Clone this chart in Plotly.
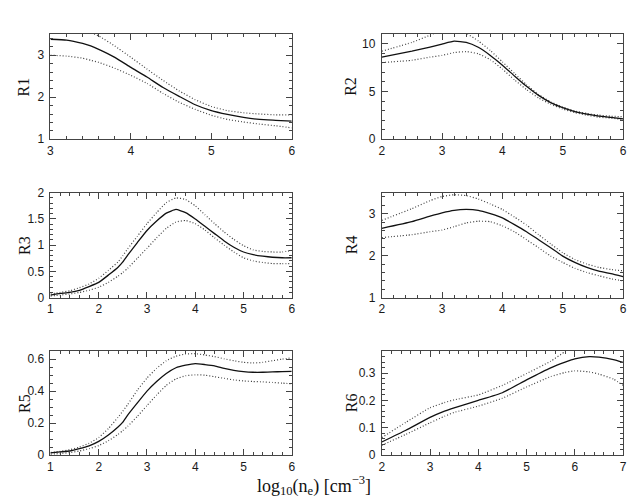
import plotly.graph_objects as go

# ---------------- data ----------------
# R1
r1_x = [3.0, 3.2, 3.4, 3.5, 3.6, 3.8, 4.0, 4.2, 4.4, 4.6, 4.8, 5.0, 5.2, 5.4, 5.6, 5.8, 6.0]
r1_mid = [3.38, 3.36, 3.28, 3.22, 3.14, 2.95, 2.71, 2.48, 2.23, 2.02, 1.82, 1.68, 1.59, 1.52, 1.47, 1.45, 1.43]
r1_hi = [3.75, 3.70, 3.60, 3.53, 3.46, 3.22, 2.95, 2.67, 2.40, 2.15, 1.94, 1.78, 1.68, 1.63, 1.60, 1.58, 1.58]
r1_lo = [3.00, 2.98, 2.93, 2.88, 2.83, 2.69, 2.52, 2.33, 2.09, 1.88, 1.71, 1.57, 1.47, 1.41, 1.36, 1.32, 1.27]

# R2
r2_x = [2.0, 2.5, 2.8, 3.0, 3.2, 3.4, 3.6, 3.8, 4.0, 4.2, 4.4, 4.6, 4.8, 5.0, 5.2, 5.4, 5.6, 5.8, 6.0]
r2_mid = [8.6, 9.22, 9.65, 9.97, 10.27, 10.14, 9.63, 8.78, 7.76, 6.63, 5.54, 4.59, 3.84, 3.30, 2.89, 2.62, 2.41, 2.28, 2.14]
r2_hi = [9.22, 10.14, 10.9, 11.4, 11.5, 11.1, 10.3, 9.29, 8.10, 6.90, 5.71, 4.69, 3.91, 3.37, 2.96, 2.69, 2.52, 2.41, 2.35]
r2_lo = [8.03, 8.27, 8.6, 8.78, 9.08, 9.18, 8.95, 8.33, 7.35, 6.22, 5.20, 4.32, 3.67, 3.16, 2.79, 2.52, 2.31, 2.21, 2.07]

# R3
r3_x = [1.0, 1.2, 1.4, 1.6, 1.8, 2.0, 2.2, 2.4, 2.5, 2.6, 2.8, 3.0, 3.2, 3.4, 3.6, 3.8, 4.0,
        4.2, 4.4, 4.6, 4.8, 5.0, 5.2, 5.4, 5.6, 5.8, 6.0]
r3_mid = [0.05, 0.08, 0.10, 0.14, 0.21, 0.29, 0.43, 0.58, 0.68, 0.81, 1.05, 1.28, 1.46, 1.61, 1.68, 1.62, 1.50,
          1.36, 1.22, 1.08, 0.96, 0.87, 0.82, 0.79, 0.77, 0.76, 0.76]
r3_hi = [0.07, 0.10, 0.13, 0.19, 0.26, 0.37, 0.52, 0.68, 0.80, 0.93, 1.17, 1.41, 1.62, 1.81, 1.90, 1.87, 1.75,
         1.58, 1.41, 1.25, 1.11, 0.99, 0.91, 0.88, 0.87, 0.87, 0.90]
r3_lo = [0.03, 0.05, 0.07, 0.10, 0.14, 0.20, 0.29, 0.41, 0.48, 0.56, 0.75, 0.94, 1.14, 1.32, 1.44, 1.47, 1.41,
         1.29, 1.14, 1.00, 0.87, 0.76, 0.70, 0.67, 0.65, 0.65, 0.65]

# R4
r4_x = [2.0, 2.5, 2.8, 3.0, 3.2, 3.4, 3.6, 3.8, 4.0, 4.2, 4.4, 4.6, 4.8, 5.0, 5.2, 5.4, 5.6, 5.8, 6.0]
r4_mid = [2.65, 2.81, 2.94, 3.02, 3.08, 3.10, 3.08, 3.00, 2.90, 2.74, 2.57, 2.38, 2.19, 1.99, 1.84, 1.72, 1.63, 1.57, 1.50]
r4_hi = [2.84, 3.12, 3.31, 3.41, 3.45, 3.43, 3.35, 3.23, 3.10, 2.92, 2.73, 2.50, 2.28, 2.07, 1.91, 1.80, 1.72, 1.67, 1.64]
r4_lo = [2.43, 2.50, 2.57, 2.61, 2.69, 2.78, 2.82, 2.81, 2.71, 2.57, 2.38, 2.19, 1.99, 1.84, 1.70, 1.60, 1.52, 1.45, 1.40]

# R5
r5_x = [1.0, 1.2, 1.4, 1.6, 1.8, 2.0, 2.2, 2.4, 2.5, 2.6, 2.8, 3.0, 3.2, 3.4, 3.6, 3.8, 4.0,
        4.2, 4.4, 4.6, 4.8, 5.0, 5.2, 5.4, 5.6, 5.8, 6.0]
r5_mid = [0.014, 0.020, 0.026, 0.040, 0.058, 0.086, 0.126, 0.176, 0.206, 0.250, 0.326, 0.400, 0.460, 0.510,
          0.546, 0.562, 0.572, 0.566, 0.558, 0.542, 0.530, 0.522, 0.518, 0.518, 0.520, 0.522, 0.524]
r5_hi = [0.016, 0.024, 0.034, 0.050, 0.074, 0.110, 0.166, 0.236, 0.275, 0.316, 0.406, 0.482, 0.542, 0.590,
         0.618, 0.632, 0.634, 0.626, 0.616, 0.602, 0.590, 0.580, 0.576, 0.580, 0.590, 0.600, 0.608]
r5_lo = [0.006, 0.010, 0.016, 0.026, 0.040, 0.060, 0.090, 0.130, 0.154, 0.180, 0.242, 0.310, 0.376, 0.436,
         0.476, 0.496, 0.502, 0.500, 0.490, 0.480, 0.470, 0.464, 0.460, 0.458, 0.454, 0.450, 0.446]

# R6
r6_x = [2.0, 2.5, 3.0, 3.3, 3.5, 4.0, 4.5, 5.0, 5.5, 5.8, 6.0, 6.3, 6.5, 6.8, 7.0]
r6_mid = [0.048, 0.091, 0.138, 0.161, 0.173, 0.200, 0.228, 0.275, 0.319, 0.340, 0.352, 0.360, 0.358, 0.349, 0.339]
r6_hi = [0.064, 0.120, 0.173, 0.192, 0.202, 0.220, 0.255, 0.298, 0.343, 0.378, 0.395, 0.405, 0.410, 0.410, 0.410]
r6_lo = [0.036, 0.076, 0.118, 0.142, 0.156, 0.179, 0.208, 0.249, 0.287, 0.302, 0.308, 0.304, 0.296, 0.278, 0.255]

panel_names = ["R1", "R2", "R3", "R4", "R5", "R6"]
xs = [r1_x, r2_x, r3_x, r4_x, r5_x, r6_x]
mids = [r1_mid, r2_mid, r3_mid, r4_mid, r5_mid, r6_mid]
his = [r1_hi, r2_hi, r3_hi, r4_hi, r5_hi, r6_hi]
los = [r1_lo, r2_lo, r3_lo, r4_lo, r5_lo, r6_lo]
x_ranges = [[3, 6], [2, 6], [1, 6], [2, 6], [1, 6], [2, 7]]
y_ranges = [[1, 3.5], [0, 11], [0, 2], [1, 3.5], [0, 0.65], [0, 0.38]]
y_major = [1, 5, 0.5, 1, 0.2, 0.1]
y_minor = [0.2, 1, 0.1, 0.2, 0.05, 0.02]

W, H = 631, 502
col_px = [(48, 292), (383, 627)]
row_px = [(28, 136), (191, 299), (354, 461)]

fig = go.Figure()
tickfont = dict(family="Liberation Sans, Arial, sans-serif", size=12, color="#1a1a1a")
serif = "Liberation Serif, Times New Roman, serif"

for i in range(6):
    r, c = divmod(i, 2)
    n = i + 1
    xa = "x" if n == 1 else f"x{n}"
    ya = "y" if n == 1 else f"y{n}"
    for yv, dash, w, col in [(his[i], "1px,2px", 1.2, "#444"), (los[i], "1px,2px", 1.2, "#444"),
                             (mids[i], "solid", 1.3, "#111")]:
        fig.add_trace(go.Scatter(x=xs[i], y=yv, mode="lines", xaxis=xa, yaxis=ya,
                                 line=dict(color=col, width=w, dash=dash, shape="spline", smoothing=0.4),
                                 showlegend=False, hoverinfo="skip"))
    x0, x1 = col_px[c]
    t, b = row_px[r]
    axcommon = dict(showline=True, linecolor="#444", linewidth=1, mirror="ticks", ticks="inside",
                    ticklen=6, tickcolor="#444", tickwidth=1, showgrid=False, zeroline=False,
                    tickfont=tickfont, ticklabeloverflow="allow")
    fig.layout[f"xaxis{'' if n == 1 else n}"] = dict(
        domain=[x0 / W, x1 / W], range=x_ranges[i], dtick=1, tick0=0, anchor=ya,
        minor=dict(dtick=0.2, tick0=0, ticks="inside", ticklen=3, tickcolor="#444", tickwidth=1, showgrid=False),
        **axcommon)
    fig.layout[f"yaxis{'' if n == 1 else n}"] = dict(
        domain=[1 - b / H, 1 - t / H], range=y_ranges[i], dtick=y_major[i], tick0=0, anchor=xa,
        ticklabelstandoff=3,
        minor=dict(dtick=y_minor[i], tick0=0, ticks="inside", ticklen=3, tickcolor="#444", tickwidth=1,
                   showgrid=False),
        **axcommon)
    fig.add_annotation(text=panel_names[i], xref="paper", yref="paper",
                       x=(21 if c == 0 else 352) / W, y=1 - ((t + b) / 2) / H,
                       xanchor="center", yanchor="middle", textangle=-90, showarrow=False,
                       font=dict(family=serif, size=16, color="#111"))

fig.add_annotation(text="log<sub>10</sub>(n<sub>e</sub>) [cm<sup>−3</sup>]", xref="paper", yref="paper",
                   x=314 / W, y=1 - 492 / H, xanchor="center", yanchor="middle", showarrow=False,
                   font=dict(family=serif, size=18, color="#111"))

fig.update_layout(width=W, height=H, margin=dict(l=0, r=0, t=0, b=0),
                  paper_bgcolor="white", plot_bgcolor="white")

fig.write_html("out.html", config={"displayModeBar": False},
               post_script="document.body.style.margin='0';document.body.style.overflow='hidden';")
